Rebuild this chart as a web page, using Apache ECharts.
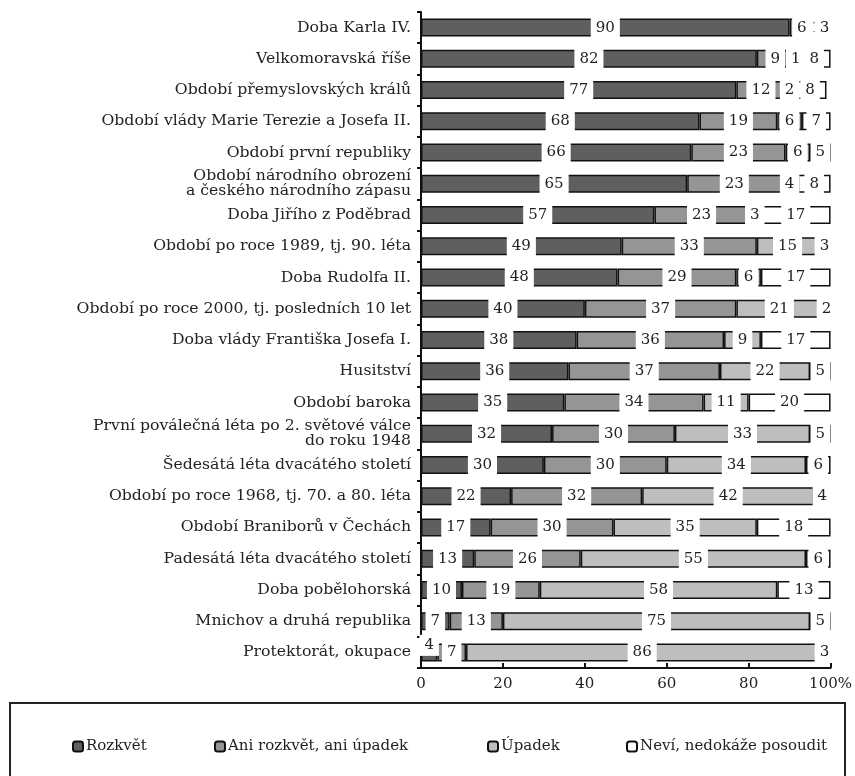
<!DOCTYPE html>
<html>
<head>
<meta charset="utf-8">
<script src="https://cdn.jsdelivr.net/npm/echarts@6/dist/echarts.min.js"></script>
<style>
html,body{margin:0;padding:0;background:#fff;}
#chart{width:855px;height:776px;}
</style>
</head>
<body>
<div id="chart"></div>
<script>
const categories = [
  'Doba Karla IV.',
  'Velkomoravská říše',
  'Období přemyslovských králů',
  'Období vlády Marie Terezie a Josefa II.',
  'Období první republiky',
  'Období národního obrození\na českého národního zápasu',
  'Doba Jiřího z Poděbrad',
  'Období po roce 1989, tj. 90. léta',
  'Doba Rudolfa II.',
  'Období po roce 2000, tj. posledních 10 let',
  'Doba vlády Františka Josefa I.',
  'Husitství',
  'Období baroka',
  'První poválečná léta po 2. světové válce\ndo roku 1948',
  'Šedesátá léta dvacátého století',
  'Období po roce 1968, tj. 70. a 80. léta',
  'Období Braniborů v Čechách',
  'Padesátá léta dvacátého století',
  'Doba pobělohorská',
  'Mnichov a druhá republika',
  'Protektorát, okupace'
];
const rozkvet = [90, 82, 77, 68, 66, 65, 57, 49, 48, 40, 38, 36, 35, 32, 30, 22, 17, 13, 10, 7, 4];
const aniRozkvetAniUpadek = [6, 9, 12, 19, 23, 23, 23, 33, 29, 37, 36, 37, 34, 30, 30, 32, 30, 26, 19, 13, 7];
const upadek = [1, 1, 2, 6, 6, 4, 3, 15, 6, 21, 9, 22, 11, 33, 34, 42, 35, 55, 58, 75, 86];
const nevi = [3, 8, 8, 7, 5, 8, 17, 3, 17, 2, 17, 5, 20, 5, 6, 4, 18, 6, 13, 5, 3];
const seriesNames = ['Rozkvět', 'Ani rozkvět, ani úpadek', 'Úpadek', 'Neví, nedokáže posoudit'];
const xTickLabels = ['0', '20', '40', '60', '80', '100%'];

const FONT = 'DejaVu Serif';
const colors = ['#5f5f5f', '#959595', '#bebebe', '#ffffff'];
const seriesData = [rozkvet, aniRozkvetAniUpadek, upadek, nevi];

const chart = echarts.init(document.getElementById('chart'), null, {renderer: 'canvas'});

const series = seriesNames.map((name, i) => ({
  name: name,
  type: 'bar',
  stack: 'total',
  barWidth: 18,
  data: seriesData[i],
  itemStyle: {color: colors[i], borderColor: '#111', borderWidth: 1.5},
  label: {
    show: true,
    position: 'inside',
    color: '#222',
    fontFamily: FONT,
    fontSize: 15,
    backgroundColor: '#fff',
    padding: [3, 5]
  },
  labelLayout: i === 0 ? function (p) { return p.dataIndex === categories.length - 1 ? {dy: -7} : {}; } : undefined
}));

const legendLefts = [67, 209, 482, 621];
const legends = seriesNames.map((name, i) => ({
  data: [name],
  left: legendLefts[i],
  top: 734,
  icon: 'roundRect',
  itemWidth: 10,
  itemHeight: 10,
  itemGap: 4,
  itemStyle: {borderColor: '#111', borderWidth: 2},
  textStyle: {fontFamily: FONT, fontSize: 15, color: '#222', padding: [0, 0, 0, -2]},
  selectedMode: false
}));

chart.setOption({
  animation: false,
  backgroundColor: '#fff',
  grid: {left: 421, right: 22, top: 12, bottom: 108},
  xAxis: {
    type: 'value',
    min: 0,
    max: 100,
    interval: 20,
    axisLine: {show: true, lineStyle: {color: '#111', width: 2}},
    axisTick: {show: true, inside: true, length: 5, lineStyle: {color: '#111', width: 2}},
    splitLine: {show: false},
    axisLabel: {
      color: '#222', fontFamily: FONT, fontSize: 15, margin: 9,
      formatter: function (v) { return xTickLabels[Math.round(v / 20)]; }
    }
  },
  yAxis: {
    type: 'category',
    inverse: true,
    data: categories,
    axisLine: {show: true, lineStyle: {color: '#111', width: 2}},
    axisTick: {show: true, length: 4, lineStyle: {color: '#111', width: 2}},
    axisLabel: {color: '#222', fontFamily: FONT, fontSize: 15.7, margin: 10, lineHeight: 15, align: 'right'}
  },
  legend: legends,
  graphic: [{
    type: 'rect',
    shape: {x: 10, y: 703, width: 835, height: 100},
    style: {fill: 'none', stroke: '#222', lineWidth: 2},
    silent: true
  }],
  series: series
});
</script>
</body>
</html>
